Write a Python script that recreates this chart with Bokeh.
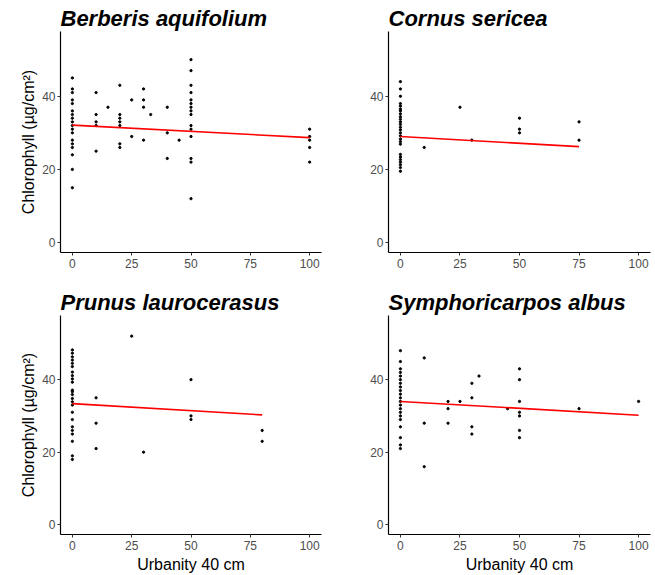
from bokeh.plotting import figure
from bokeh.layouts import column, row
from bokeh.models import Range1d, FixedTicker
from bokeh.embed import file_html
from bokeh.resources import INLINE

species = ["Berberis aquifolium", "Cornus sericea", "Prunus laurocerasus", "Symphoricarpos albus"]

berberis_x = [0]*18 + [10]*5 + [15] + [20]*7 + [25]*2 + [30]*4 + [33] + [40]*3 + [45] + [50]*15 + [100]*5
berberis_y = [45, 42, 41, 39, 38, 36, 35, 34, 33, 32, 31, 30, 28, 27, 26, 24, 20, 15,
              41, 35, 33, 32, 25,
              37,
              43, 35, 34, 33, 32, 27, 26,
              39, 29,
              42, 39, 37, 28,
              35,
              37, 30, 23,
              28,
              50, 47, 43, 41, 39, 38, 37, 36, 35, 32, 31, 29, 23, 22, 12,
              31, 29, 28, 26, 22]

cornus_x = [0]*26 + [10] + [25] + [30] + [50]*3 + [75]*2
cornus_y = [44, 42, 40, 38, 37.3, 36.5, 36, 35.2, 34.4, 33.7, 33, 32.3, 31.5, 30.8, 30, 29.2,
            28.3, 27.6, 26.9, 24.1, 23.4, 22.7, 22, 21.3, 20.5, 19.5,
            26,
            37,
            28,
            34, 31, 30,
            33, 28]

prunus_x = [0]*24 + [10]*3 + [25] + [30] + [50]*3 + [80]*2
prunus_y = [48.2, 47.3, 46.3, 45.4, 44.5, 43.6, 42.1, 41.1, 40.2, 39.3, 37.1, 36.7, 35.9, 34.8,
            33.9, 33, 31, 29, 27, 26, 25, 23, 19, 18,
            35, 28, 21,
            52,
            20,
            40, 30, 29,
            26, 23]

symph_x = [0]*21 + [10]*3 + [20]*3 + [25] + [30]*4 + [33] + [45] + [50]*7 + [75] + [100]
symph_y = [48, 45, 43, 42, 41, 40, 39, 38, 37, 36, 35, 34, 33, 32, 31, 30, 29, 27, 24, 22, 21,
           46, 28, 16,
           34, 32, 28,
           34,
           39, 35, 27, 25,
           41,
           32,
           43, 40, 34, 31, 30, 26, 24,
           32,
           34]

# fitted linear trend (intercept, slope)
fit_intercept = [32.1, 29.0, 33.4, 34.0]
fit_slope = [-0.034, -0.037, -0.039, -0.038]

x_ticks = [0, 25, 50, 75, 100]
y_ticks = [0, 20, 40]
x_label = "Urbanity 40 cm"
y_label = "Chlorophyll (µg/cm²)"

FONT = "Liberation Sans"


def panel(i, xs, ys, width, height, left, right, top, bottom, show_ylabel, show_xlabel):
    p = figure(width=width, height=height, output_backend="svg", toolbar_location=None,
               x_range=Range1d(-5, 105), y_range=Range1d(-2.7, 57.7),
               min_border_left=left, min_border_right=right,
               min_border_top=top, min_border_bottom=bottom)
    p.title.text = species[i]
    p.title.text_font = FONT
    p.title.text_font_size = "22px"
    p.title.text_font_style = "bold italic"
    p.title.text_color = "black"
    p.title.standoff = 1
    p.outline_line_color = None
    p.grid.visible = False
    p.background_fill_color = "white"
    p.border_fill_color = "white"
    for ax in (p.xaxis[0], p.yaxis[0]):
        ax.axis_line_color = "black"
        ax.axis_line_width = 1.2
        ax.major_tick_line_color = "#333333"
        ax.major_tick_out = 3
        ax.major_tick_in = 0
        ax.minor_tick_line_color = None
        ax.major_label_text_font = FONT
        ax.major_label_text_font_size = "12px"
        ax.major_label_text_color = "#4d4d4d"
        ax.major_label_standoff = 3
        ax.axis_label_text_font = FONT
        ax.axis_label_text_font_size = "16px"
        ax.axis_label_text_font_style = "normal"
        ax.axis_label_text_color = "black"
    p.yaxis.major_label_standoff = 2
    p.xaxis.ticker = FixedTicker(ticks=x_ticks)
    p.yaxis.ticker = FixedTicker(ticks=y_ticks)
    if show_ylabel:
        p.yaxis.axis_label = y_label
        p.yaxis.axis_label_standoff = 2
    if show_xlabel:
        p.xaxis.axis_label = x_label
        p.xaxis.axis_label_standoff = 3

    p.scatter(xs, ys, size=2.3, color="black", marker="circle")
    lx = [min(xs), max(xs)]
    ly = [fit_intercept[i] + fit_slope[i] * v for v in lx]
    p.line(lx, ly, color="red", line_width=1.6)
    return p


p1 = panel(0, berberis_x, berberis_y, 327, 287, 60, 6, 31, 35, True, False)
p2 = panel(1, cornus_x, cornus_y, 328, 287, 61, 5, 31, 35, False, False)
p3 = panel(2, prunus_x, prunus_y, 327, 288, 60, 6, 26, 41, True, True)
p4 = panel(3, symph_x, symph_y, 328, 288, 61, 5, 26, 41, False, True)

layout = column(row(p1, p2), row(p3, p4))
open("out.html", "w").write(file_html(layout, INLINE))
